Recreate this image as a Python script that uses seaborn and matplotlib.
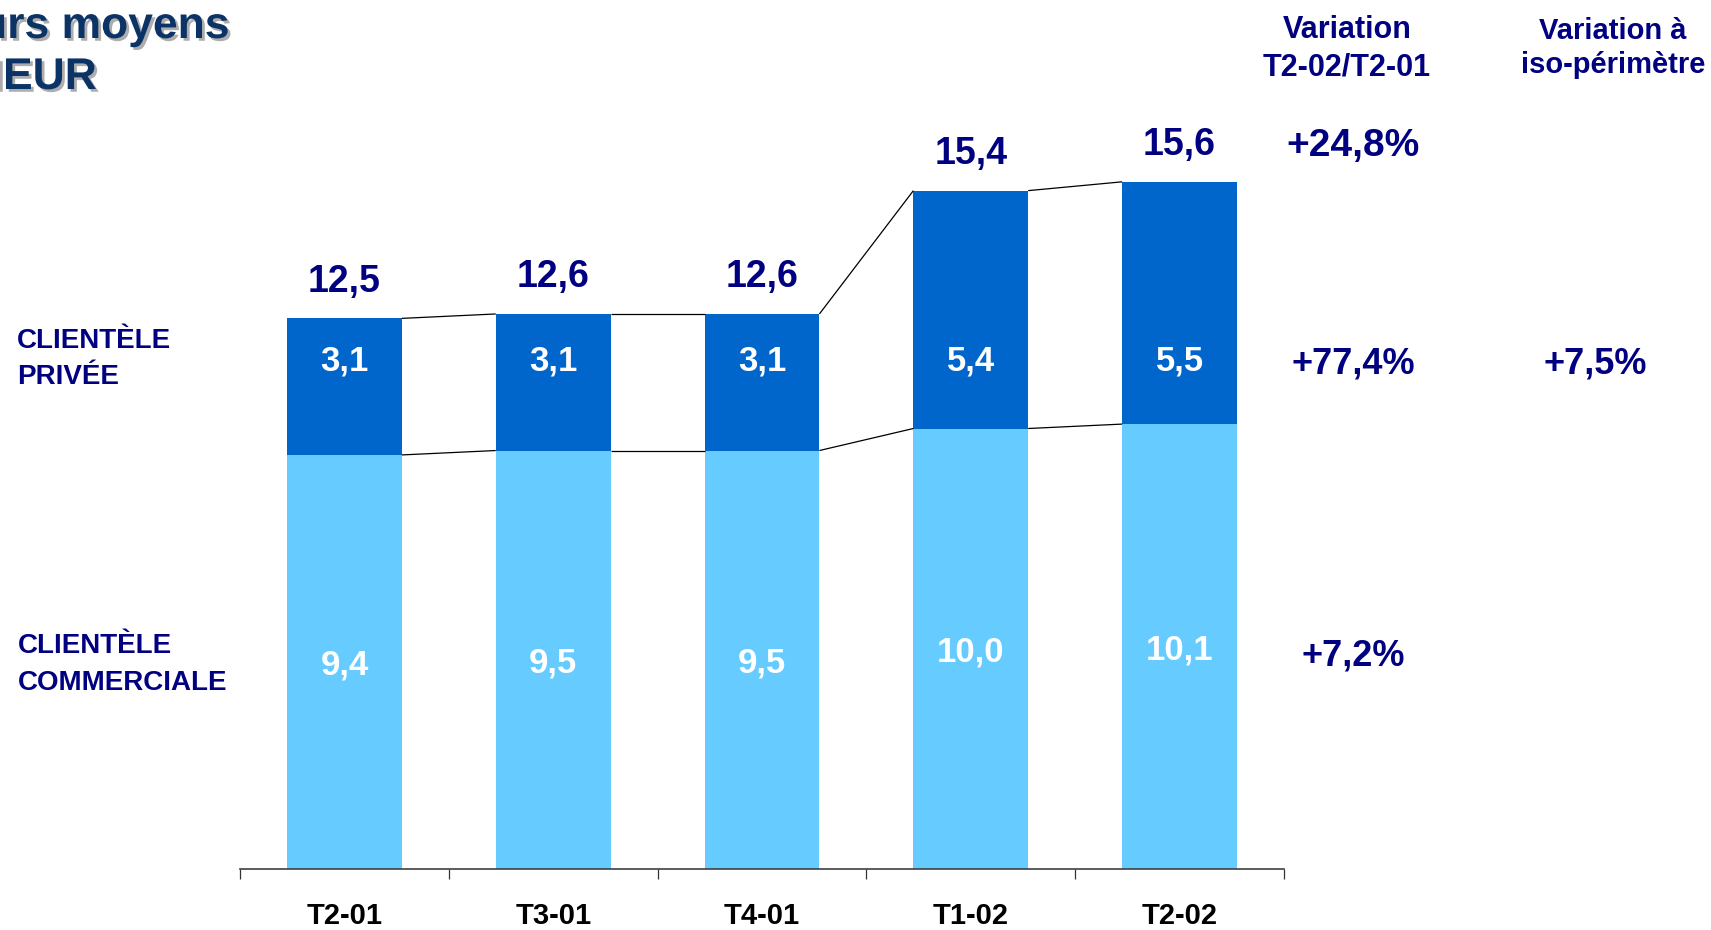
import matplotlib
matplotlib.use('Agg')
import matplotlib.pyplot as plt
import matplotlib.patheffects as pe
from matplotlib import font_manager
from matplotlib.transforms import Bbox
import seaborn as sns
import pandas as pd

# données (encours moyens)
periodes = ['T2-01', 'T3-01', 'T4-01', 'T1-02', 'T2-02']
commerciale = [9.4, 9.5, 9.5, 10.0, 10.1]
privee = [3.1, 3.1, 3.1, 5.4, 5.5]
totaux = [12.5, 12.6, 12.6, 15.4, 15.6]
var_t2 = ['+24,8%', '+77,4%', '+7,2%']  # total, privée, commerciale
var_iso = '+7,5%'


def fr(v):
    return '{0:.1f}'.format(v).replace('.', ',')


sns.set_style('white')
plt.rcParams['font.family'] = ['Liberation Sans', 'DejaVu Sans']
plt.rcParams['font.weight'] = 'bold'

NAVY = '#000080'
FONCE = '#0066CC'
CLAIR = '#66CCFF'
W, H = 1711, 930
LARG = 0.55

noms = {f.name for f in font_manager.fontManager.ttflist}
if 'Liberation Sans Narrow' in noms:
    police_x, taille_x = 'Liberation Sans Narrow', 26
else:
    police_x, taille_x = 'Liberation Sans', 21

df = pd.DataFrame({'periode': periodes, 'commerciale': commerciale,
                   'privee': privee, 'total': totaux})

fig = plt.figure(figsize=(W / 100, H / 100), dpi=100)
ax = fig.add_axes([240 / W, 61 / H, 1044 / W, 17 * 44.05 / H])

sns.barplot(data=df, x='periode', y='total', color=FONCE, saturation=1,
            width=LARG, linewidth=0, ax=ax)
sns.barplot(data=df, x='periode', y='commerciale', color=CLAIR, saturation=1,
            width=LARG, linewidth=0, ax=ax)

# lignes de liaison entre les barres
for niveau in (commerciale, totaux):
    for i in range(len(periodes) - 1):
        ax.plot([i + LARG / 2, i + 1 - LARG / 2], [niveau[i], niveau[i + 1]],
                color='black', lw=0.9, solid_capstyle='butt')

for i in range(len(periodes)):
    ax.text(i, commerciale[i] / 2, fr(commerciale[i]), color='white',
            fontsize=25, ha='center', va='center_baseline')
    ax.text(i, 11.62, fr(privee[i]), color='white',
            fontsize=25, ha='center', va='center_baseline')
    ax.text(i, totaux[i] + 0.92, fr(totaux[i]), color=NAVY,
            fontsize=27, ha='center', va='center_baseline')

ax.set_xlim(-0.5, 4.5)
ax.set_ylim(0, 17)
ax.set_xlabel('')
ax.set_ylabel('')
ax.set_yticks([])
ax.set_xticks(range(len(periodes)))
ax.set_xticklabels(periodes, fontsize=taille_x, fontfamily=police_x,
                   fontweight='bold', color='black')
ax.set_xticks([k - 0.5 for k in range(len(periodes) + 1)], minor=True)
ax.tick_params(axis='x', which='major', length=0, pad=24)
ax.tick_params(axis='x', which='minor', length=7, width=0.9,
               direction='out', color='#333333', bottom=True)
for cote in ('left', 'top', 'right'):
    ax.spines[cote].set_visible(False)
ax.spines['bottom'].set_color('#404040')
ax.spines['bottom'].set_linewidth(1.2)


def px(x, y):
    return x / W, 1 - y / H


# titre (coupé sur la gauche comme dans l'original)
ombre = [pe.withSimplePatchShadow(offset=(2, -2), shadow_rgbFace='#999999', alpha=0.8)]
fig.text(*px(230, 38), 'Encours moyens', ha='right', va='baseline',
         fontsize=32, color='#0B3365', path_effects=ombre)
fig.text(*px(97, 89), 'en MEUR', ha='right', va='baseline',
         fontsize=32, color='#0B3365', path_effects=ombre)

# libellés des segments
fig.text(*px(17, 341), 'CLIENTÈLE', ha='left', va='center', fontsize=20, color=NAVY)
fig.text(*px(17, 377), 'PRIVÉE', ha='left', va='center', fontsize=20, color=NAVY)
fig.text(*px(18, 646), 'CLIENTÈLE', ha='left', va='center', fontsize=20, color=NAVY)
fig.text(*px(18, 683), 'COMMERCIALE', ha='left', va='center', fontsize=20, color=NAVY)

# colonnes de variation
fig.text(*px(1347, 30), 'Variation', ha='center', va='center', fontsize=22, color=NAVY)
fig.text(*px(1347, 68), 'T2-02/T2-01', ha='center', va='center', fontsize=22, color=NAVY)
fig.text(*px(1613, 31), 'Variation à', ha='center', va='center', fontsize=21, color=NAVY)
fig.text(*px(1613, 65), 'iso-périmètre', ha='center', va='center', fontsize=21, color=NAVY)

t = fig.text(*px(1353, 142), var_t2[0], ha='center', va='center_baseline',
             fontsize=28, color=NAVY)
t.set_clip_box(Bbox([[0, 0], [1419, H]]))
t.set_clip_on(True)
fig.text(*px(1353, 360), var_t2[1], ha='center', va='center_baseline', fontsize=26, color=NAVY)
fig.text(*px(1353, 652), var_t2[2], ha='center', va='center_baseline', fontsize=26, color=NAVY)
fig.text(*px(1595, 360), var_iso, ha='center', va='center_baseline', fontsize=26, color=NAVY)

fig.savefig('out.png', dpi=100)
